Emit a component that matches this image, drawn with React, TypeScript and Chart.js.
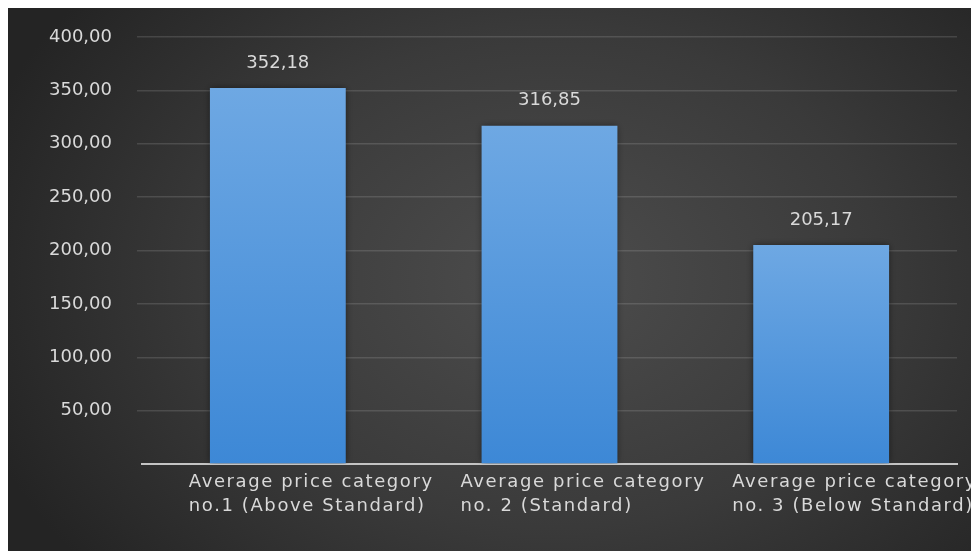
import React, { useEffect, useRef } from "react";
import { Chart, registerables } from "chart.js";

Chart.register(...registerables);

const categories: string[][] = [
  ["Average price category", "no.1 (Above Standard)"],
  ["Average price category", "no. 2 (Standard)"],
  ["Average price category", "no. 3 (Below Standard)"],
];
const values: number[] = [352.18, 316.85, 205.17];
const yMin = 0;
const yMax = 400;
const yStep = 50;

const FONT = "'DejaVu Sans', sans-serif";
const TEXT = "#d9d9d9";

const fmt = (v: number) => v.toFixed(2).replace(".", ",");

const bgPlugin = {
  id: "bg",
  beforeDraw(chart: any) {
    const { ctx, width, height } = chart;
    ctx.save();
    const cx = width * 0.56;
    const cy = height * 0.5;
    ctx.translate(cx, cy);
    ctx.scale(1, 0.75);
    const g = ctx.createRadialGradient(0, 0, 0, 0, 0, width * 0.62);
    g.addColorStop(0, "#4d4d4d");
    g.addColorStop(0.55, "#3a3a3a");
    g.addColorStop(1, "#242424");
    ctx.fillStyle = g;
    ctx.fillRect(-cx - 10, -cy / 0.75 - 10, width + 20, height / 0.75 + 20);
    ctx.restore();
  },
};

const shadowPlugin = {
  id: "barShadow",
  beforeDatasetsDraw(chart: any) {
    const ctx = chart.ctx;
    ctx.save();
    ctx.shadowColor = "rgba(0,0,0,0.55)";
    ctx.shadowBlur = 7;
  },
  afterDatasetsDraw(chart: any) {
    chart.ctx.restore();
  },
};

const labelsPlugin = {
  id: "customLabels",
  afterDraw(chart: any) {
    const { ctx, chartArea } = chart;
    const meta = chart.getDatasetMeta(0);
    const xScale = chart.scales.x;
    ctx.save();
    ctx.fillStyle = TEXT;
    // value labels above bars
    ctx.font = `18px ${FONT}`;
    ctx.textAlign = "center";
    ctx.textBaseline = "middle";
    meta.data.forEach((bar: any, i: number) => {
      ctx.fillText(fmt(values[i]), bar.x, bar.y - 25);
    });
    // category labels
    ctx.textAlign = "left";
    try {
      (ctx as any).letterSpacing = "1.6px";
    } catch (e) {}
    categories.forEach((lines, i) => {
      const x = xScale.getPixelForValue(i) - 89;
      lines.forEach((line, j) => {
        ctx.fillText(line, x, chartArea.bottom + 18 + j * 24);
      });
    });
    ctx.restore();
  },
};

export default function App() {
  const ref = useRef<HTMLCanvasElement | null>(null);

  useEffect(() => {
    document.documentElement.style.overflow = "hidden";
    document.body.style.overflow = "hidden";
    const canvas = ref.current;
    if (!canvas) return;
    const chart = new Chart(canvas, {
      type: "bar",
      data: {
        labels: categories.map((c) => c.join(" ")),
        datasets: [
          {
            data: values,
            backgroundColor: (c: any) => {
              const ch = c.chart;
              const y = ch.scales && ch.scales.y;
              if (!ch.chartArea || !y || c.raw == null) return "#5a9be0";
              const top = y.getPixelForValue(c.raw);
              const bottom = y.getPixelForValue(0);
              const g = ch.ctx.createLinearGradient(0, top, 0, bottom);
              g.addColorStop(0, "#6ea8e3");
              g.addColorStop(1, "#3d88d6");
              return g;
            },
            borderWidth: 0,
            barPercentage: 0.5,
            categoryPercentage: 1,
          },
        ],
      },
      options: {
        responsive: false,
        animation: false,
        layout: { padding: { left: 0, right: 22, top: 29, bottom: 0 } },
        plugins: {
          legend: { display: false },
          tooltip: { enabled: false },
        },
        scales: {
          x: {
            grid: { display: false, drawTicks: false },
            border: { display: true, color: "#c4c4c4", width: 2 },
            ticks: { display: false },
            afterFit: (s: any) => {
              s.height = 87;
              s.paddingLeft = 0;
              s.paddingRight = 0;
            },
          },
          y: {
            min: yMin,
            max: yMax,
            border: { display: false },
            grid: {
              color: (c: any) =>
                c.tick && c.tick.value === 0 ? "rgba(0,0,0,0)" : "rgba(255,255,255,0.13)",
              lineWidth: 1.5,
              tickLength: 5,
              drawTicks: true,
            },
            ticks: {
              stepSize: yStep,
              padding: 25,
              color: TEXT,
              font: { family: FONT, size: 18 },
              callback: (v: any) => (Number(v) === 0 ? "" : fmt(Number(v))),
            },
            afterFit: (s: any) => {
              s.width = 134;
              s.paddingTop = 0;
              s.paddingBottom = 0;
            },
          },
        },
      },
      plugins: [bgPlugin, shadowPlugin, labelsPlugin],
    });
    return () => chart.destroy();
  }, []);

  return (
    <div style={{ width: 971, height: 543 }}>
      <canvas ref={ref} width={971} height={543} style={{ display: "block" }} />
    </div>
  );
}
